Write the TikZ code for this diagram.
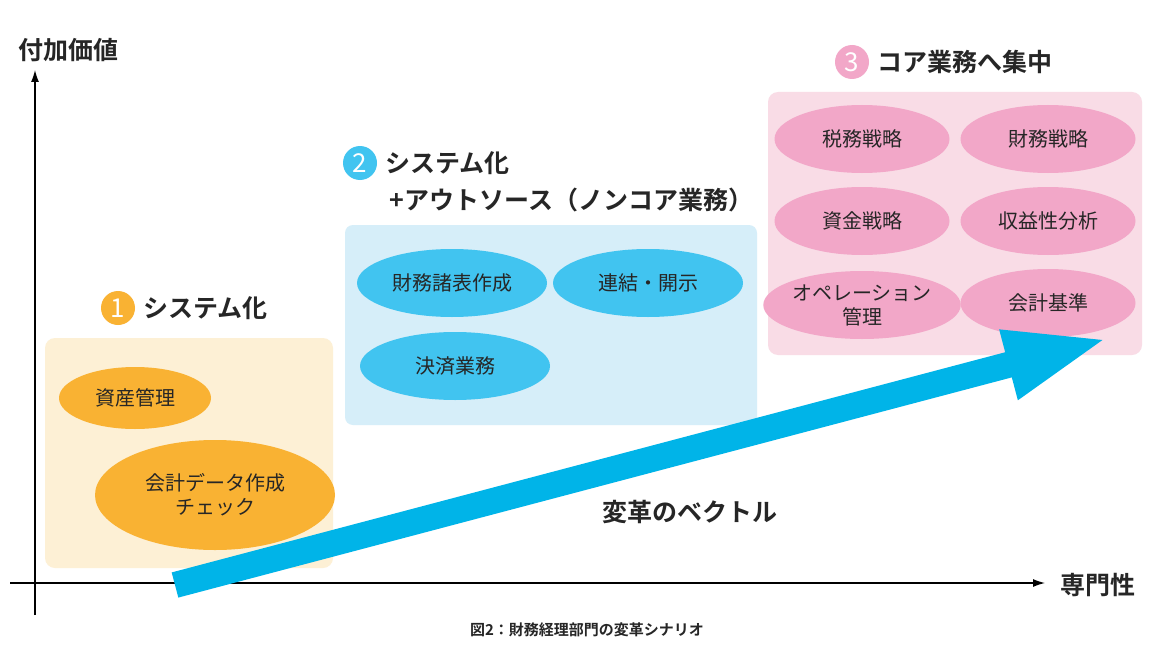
\documentclass[tikz,border=0pt]{standalone}
\usepackage{fontspec}
\setmainfont{Noto Sans CJK JP}
\newfontfamily\jpb{Noto Sans CJK JP Bold}
\usetikzlibrary{shapes.geometric,arrows.meta}
\definecolor{orA}{HTML}{F9B233}
\definecolor{orB}{HTML}{FDF0D5}
\definecolor{blA}{HTML}{41C4F0}
\definecolor{blB}{HTML}{D6EEF9}
\definecolor{pkA}{HTML}{F2A7C8}
\definecolor{pkB}{HTML}{F9DCE6}
\definecolor{arr}{HTML}{00B4E8}
\begin{document}
\begin{tikzpicture}[x=1pt,y=-1pt,
 ell/.style={ellipse,inner sep=0pt,minimum width=175pt,minimum height=68pt,font=\fontsize{20}{24}\selectfont,align=center,text=black!85},
 num/.style={circle,inner sep=0pt,minimum size=34pt,text=white,font=\fontsize{26}{26}\selectfont},
 head/.style={font=\jpb\fontsize{25}{30}\selectfont,text=black!85,anchor=west}]
\useasboundingbox (0,0) rectangle (1174,658);
\fill[white] (0,0) rectangle (1174,658);
% boxes
\fill[orB,rounded corners=10pt] (45,338) rectangle (333,568);
\fill[blB,rounded corners=8pt] (345,225) rectangle (757,425);
\fill[pkB,rounded corners=10pt] (768,92) rectangle (1142,355);
% axes
\coordinate (ya) at (35,615); \coordinate (yb) at (35,70);
\coordinate (xa) at (10,583); \coordinate (xb) at (1045,583);
\draw[line width=1.2pt,-{Latex[length=12pt,width=8pt]}] (ya) -- (yb);
\draw[line width=1.2pt,-{Latex[length=12pt,width=8pt]}] (xa) -- (xb);
\node[head,anchor=center] (yl) at (68,50) {付加価値};
\node[head,anchor=center] (xl) at (1098,585) {専門性};
% group 1
\node[num,fill=orA] (n1) at (118,308) {1};
\node[head] (t1) at (140,308) {システム化};
\node[ell,fill=orA,minimum width=152pt,minimum height=62pt] (e1) at (135,398) {資産管理};
\node[ell,fill=orA,minimum width=240pt,minimum height=110pt] (e2) at (215,495) {会計データ作成\\チェック};
% group 2
\node[num,fill=blA] (n2) at (360,163) {2};
\node[head] (t2) at (382,163) {システム化};
\node[head] (t2b) at (386,200) {+アウトソース（ノンコア業務）};
\node[ell,fill=blA,minimum width=190pt] (b1) at (452,283) {財務諸表作成};
\node[ell,fill=blA,minimum width=190pt] (b2) at (648,283) {連結・開示};
\node[ell,fill=blA,minimum width=190pt] (b3) at (455,366) {決済業務};
% group 3
\node[num,fill=pkA] (n3) at (852,62) {3};
\node[head] (t3) at (874,62) {コア業務へ集中};
\node[ell,fill=pkA] (p1) at (862,139) {税務戦略};
\node[ell,fill=pkA] (p2) at (1048,139) {財務戦略};
\node[ell,fill=pkA] (p3) at (862,221) {資金戦略};
\node[ell,fill=pkA] (p4) at (1048,221) {収益性分析};
\node[ell,fill=pkA] (p5) at (862,305) {オペレーション\\管理};
\node[ell,fill=pkA] (p6) at (1048,303) {会計基準};
% big arrow
\coordinate (aa) at (175,585); \coordinate (ab) at (1110,338);
\draw[arr,line width=26pt,-{Triangle[length=105pt,width=64pt]}] (aa) -- (ab);
\node[head,anchor=center] (vl) at (690,512) {変革のベクトル};
\node[font=\jpb\fontsize{15}{18}\selectfont,text=black!85] (cap) at (587,630) {図2：財務経理部門の変革シナリオ};
\end{tikzpicture}
\end{document}
